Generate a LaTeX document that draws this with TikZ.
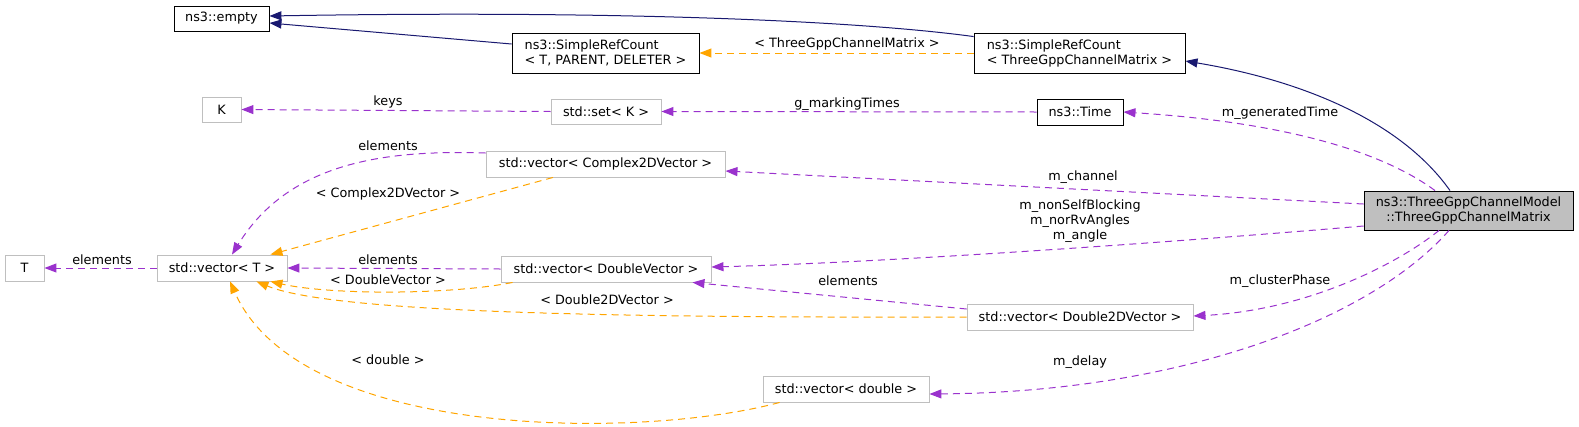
\documentclass[tikz,border=0pt]{standalone}
\usepackage{fontspec}
\setmainfont{DejaVu Sans}
\usetikzlibrary{arrows.meta,calc}
\definecolor{inhblue}{RGB}{25,25,112}
\definecolor{tplorange}{RGB}{255,165,0}
\definecolor{usepurple}{RGB}{154,50,205}
\definecolor{boxgray}{RGB}{191,191,191}
\begin{document}
\begin{tikzpicture}[x=1pt,y=-1pt,
  every node/.style={font=\fontsize{12.8}{15}\selectfont},
  graybox/.style={draw=boxgray,line width=0.9pt,rectangle,inner sep=0pt,align=center},
  blackbox/.style={draw=black,line width=0.9pt,rectangle,inner sep=0pt,align=left},
  mainbox/.style={draw=black,fill=boxgray,line width=0.9pt,rectangle,inner sep=0pt,align=center},
  inh/.style={-{Triangle[length=12pt,width=9pt,fill=inhblue]},draw=inhblue,line width=1pt},
  tpl/.style={-{Triangle[length=12pt,width=9pt,fill=tplorange]},draw=tplorange,line width=1pt,dash pattern=on 7pt off 5pt},
  usage/.style={-{Triangle[length=12pt,width=9pt,fill=usepurple]},draw=usepurple,line width=1pt,dash pattern=on 7pt off 5pt},
  lbl/.style={inner sep=0pt,align=center}
]
\useasboundingbox (0,0) rectangle (1579,426);

% nodes
\node[blackbox,minimum width=95pt,minimum height=25pt] (empty) at (221.5,18.5) {ns3::empty};
\node[blackbox,minimum width=187pt,minimum height=40pt] (srcT) at (605.5,53) {ns3::SimpleRefCount\\< T, PARENT, DELETER >};
\node[blackbox,minimum width=211pt,minimum height=40pt] (srcM) at (1079.5,53) {ns3::SimpleRefCount\\< ThreeGppChannelMatrix >};
\node[graybox,minimum width=39pt,minimum height=25pt] (K) at (221.5,109.5) {K};
\node[graybox,minimum width=110pt,minimum height=25pt] (set) at (606,111.5) {std::set< K >};
\node[blackbox,minimum width=86pt,minimum height=26pt] (time) at (1080,112) {ns3::Time};
\node[graybox,minimum width=239pt,minimum height=26pt] (c2d) at (605.5,164) {std::vector< Complex2DVector >};
\node[mainbox,minimum width=209pt,minimum height=39pt] (main) at (1468.5,210.5) {ns3::ThreeGppChannelModel\\::ThreeGppChannelMatrix};
\node[graybox,minimum width=39pt,minimum height=26pt] (T) at (24.5,268) {T};
\node[graybox,minimum width=130pt,minimum height=26pt] (vt) at (222,268) {std::vector< T >};
\node[graybox,minimum width=210pt,minimum height=26pt] (dv) at (606,269) {std::vector< DoubleVector >};
\node[graybox,minimum width=226pt,minimum height=26pt] (d2d) at (1080,317) {std::vector< Double2DVector >};
\node[graybox,minimum width=166pt,minimum height=26pt] (dbl) at (846,389) {std::vector< double >};

% inheritance
\draw[inh] ($(main.north)+(-18.5,0)$) .. controls (1400,120) and (1300,80) .. ($(srcM.east)+(0,8)$);
\draw[inh] ($(srcM.north west)+(0,4)$) .. controls (860,21) and (620,10) .. ($(empty.east)+(0,-2.5)$);
\draw[inh] ($(srcT.west)+(0,-9)$) -- ($(empty.east)+(0,4.5)$);

% template instantiations
\draw[tpl] (srcM.west) -- (srcT.east);
\draw[tpl] ($(c2d.south)+(-52.5,0)$) -- ($(vt.north east)+(-17,0)$);
\draw[tpl] ($(dv.south west)+(12,0)$) .. controls (450,295) and (330,295) .. ($(vt.south east)+(-17,0)$);
\draw[tpl] (d2d.west) .. controls (600,318) and (330,312) .. ($(vt.south east)+(-31,0)$);
\draw[tpl] ($(dbl.south west)+(17,0)$) .. controls (640,440) and (300,440) .. ($(vt.south)+(8,0)$);

% usage
\draw[usage] ($(main.north)+(-33.5,0)$) .. controls (1380,150) and (1280,122) .. (time.east);
\draw[usage] (time.west) -- (set.east);
\draw[usage] (set.west) -- (K.east);
\draw[usage] ($(main.west)+(0,-6.5)$) -- ($(c2d.east)+(0,7)$);
\draw[usage] ($(main.west)+(0,15.5)$) .. controls (1200,240) and (900,262) .. ($(dv.east)+(0,-2)$);
\draw[usage] ($(main.south)+(-29.5,0)$) .. controls (1400,262) and (1310,310) .. ($(d2d.east)+(0,-1)$);
\draw[usage] ($(main.south)+(-19.5,0)$) .. controls (1370,320) and (1180,392) .. ($(dbl.east)+(0,5)$);
\draw[usage] ($(c2d.west)+(0,-11)$) .. controls (390,150) and (290,160) .. ($(vt.north)+(10,0)$);
\draw[usage] (dv.west) -- (vt.east);
\draw[usage] ($(d2d.west)+(0,-8)$) -- ($(dv.south east)+(-19,0)$);
\draw[usage] (vt.west) -- (T.east);

% labels
\node[lbl] (l1) at (847,44) {< ThreeGppChannelMatrix >};
\node[lbl] (l2) at (1280,113) {m\_generatedTime};
\node[lbl] (l3) at (847,104) {g\_markingTimes};
\node[lbl] (l4) at (388,102) {keys};
\node[lbl] (l5) at (1083,177) {m\_channel};
\node[lbl] (l6) at (1080,221) {m\_nonSelfBlocking\\m\_norRvAngles\\m\_angle};
\node[lbl] (l7) at (1280,281) {m\_clusterPhase};
\node[lbl] (l8) at (1080,362) {m\_delay};
\node[lbl] (l9) at (388,146) {elements};
\node[lbl] (l10) at (388,194) {< Complex2DVector >};
\node[lbl] (l11) at (102,260) {elements};
\node[lbl] (l12) at (388,260) {elements};
\node[lbl] (l13) at (388,280) {< DoubleVector >};
\node[lbl] (l14) at (607,300) {< Double2DVector >};
\node[lbl] (l15) at (848,281) {elements};
\node[lbl] (l16) at (388,360) {< double >};
\end{tikzpicture}
\end{document}
